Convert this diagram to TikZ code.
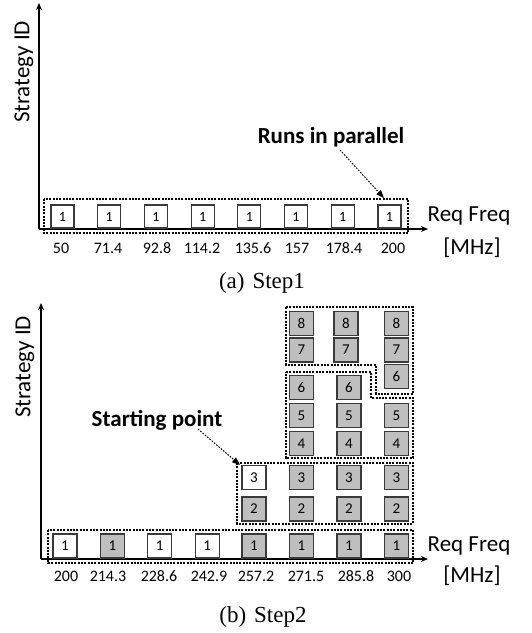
\documentclass[tikz,border=0pt]{standalone}
\usepackage{fontspec}
\setmainfont{Liberation Serif}
\newfontfamily\carl{Carlito}
\usetikzlibrary{arrows.meta}
\definecolor{fillgray}{HTML}{BFBFBF}
\definecolor{edgegray}{HTML}{3A3A3A}
\begin{document}
\begin{tikzpicture}[x=1pt,y=-1pt,
  cell/.style={draw=edgegray,line width=1.2pt,minimum size=23pt,inner sep=0pt,font=\carl\fontsize{14}{14}\selectfont},
  cellb/.style={cell,minimum size=24pt,font=\carl\fontsize{15}{15}\selectfont},
  gcell/.style={cellb,fill=fillgray},
  grp/.style={draw=black,line width=1.1pt,dash pattern=on 2pt off 1.3pt},
  axis/.style={line width=1.5pt,-{Stealth[length=7pt,width=6pt]}},
  pointer/.style={line width=1pt,dash pattern=on 1.6pt off 1.4pt,-{Triangle[length=8pt,width=6pt]}},
  lab/.style={font=\carl\fontsize{23}{23}\selectfont,inner sep=0pt},
  blab/.style={font=\carl\bfseries\fontsize{23}{23}\selectfont,inner sep=0pt},
  tick/.style={font=\carl\fontsize{16}{16}\selectfont,inner sep=0pt},
  capt/.style={font=\fontsize{23}{23}\selectfont,inner sep=0pt}]
\useasboundingbox (0,0) rectangle (532,633);

% ---------------- (a) Step1 ----------------
\coordinate (o1) at (39,229);
\coordinate (y1) at (39,3);
\coordinate (x1) at (428,229);
\draw[axis] (o1) -- (y1);
\draw[axis] (o1) -- (x1);
\node[lab,rotate=90] (sid1) at (24,72) {Strategy ID};
\node[lab] (rf1) at (469,216) {Req Freq};
\node[lab] (mhz1) at (472,248) {[MHz]};

\draw[grp] (44,199) rectangle (408,233);
\foreach \i/\x/\t/\tx in {1/62.5/50/61,2/109.2/71.4/108,3/155.9/92.8/157,4/202.6/114.2/202,5/249.3/135.6/253,6/296/157/297,7/342.7/178.4/344,8/389.4/200/393}{
  \node[cell] (a\i) at (\x,216.5) {1};
  \node[tick] (ta\i) at (\tx,248) {\t};
}
\node[blab] (runs) at (331,137) {Runs in parallel};
\coordinate (rs) at (340,150);
\coordinate (re) at (384,198);
\draw[pointer] (rs) -- (re);
\node[capt] (capa) at (262,283) {(a)\hspace{8pt}Step1};

% ---------------- (b) Step2 ----------------
\coordinate (o2) at (41,559);
\coordinate (y2) at (41,303);
\coordinate (x2) at (428,559);
\draw[axis] (o2) -- (y2);
\draw[axis] (o2) -- (x2);
\node[lab,rotate=90] (sid2) at (25,367) {Strategy ID};
\node[lab] (rf2) at (469,546) {Req Freq};
\node[lab] (mhz2) at (472,576) {[MHz]};

% group outlines
\draw[grp] (48,530) rectangle (413,563);
\draw[grp] (237,463) rectangle (413,524);
\draw[grp] (286,372) -- (371,372) -- (371,398) -- (413,398) -- (413,458) -- (286,458) -- cycle;
\draw[grp] (286,307) -- (413,307) -- (413,394) -- (376,394) -- (376,365) -- (286,365) -- cycle;

% row 1
\node[cellb] (b11) at (65,546) {1};
\node[gcell] (b12) at (112.4,546) {1};
\node[cellb] (b13) at (159.7,546) {1};
\node[cellb] (b14) at (207.1,546) {1};
\node[gcell] (b15) at (254,546) {1};
\node[gcell] (b16) at (301.5,546) {1};
\node[gcell] (b17) at (349,546) {1};
\node[gcell] (b18) at (396.5,546) {1};
\foreach \i/\t/\tx in {1/200/66,2/214.3/108,3/228.6/159,4/242.9/209,5/257.2/256,6/271.5/306,7/285.8/356,8/300/399}{
  \node[tick] (tb\i) at (\tx,576) {\t};
}
% rows 2-3
\node[gcell] (b25) at (254,509) {2};
\node[gcell] (b26) at (301.5,509) {2};
\node[gcell] (b27) at (349,509) {2};
\node[gcell] (b28) at (396.5,509) {2};
\node[cellb] (b35) at (254,477.5) {3};
\node[gcell] (b36) at (301.5,477.5) {3};
\node[gcell] (b37) at (349,477.5) {3};
\node[gcell] (b38) at (396.5,477.5) {3};
% rows 4-6
\node[gcell] (b46) at (301.5,443.5) {4};
\node[gcell] (b47) at (349,443.5) {4};
\node[gcell] (b48) at (396.5,443.5) {4};
\node[gcell] (b56) at (301.5,415.5) {5};
\node[gcell] (b57) at (349,415.5) {5};
\node[gcell] (b58) at (396.5,415.5) {5};
\node[gcell] (b66) at (301.5,387.5) {6};
\node[gcell] (b67) at (349,387.5) {6};
\node[gcell] (b68) at (396.5,376.5) {6};
% rows 7-8
\node[gcell] (b76) at (301.5,350) {7};
\node[gcell] (b77) at (346,350) {7};
\node[gcell] (b78) at (396.5,350) {7};
\node[gcell] (b86) at (301.5,323.5) {8};
\node[gcell] (b87) at (346,323.5) {8};
\node[gcell] (b88) at (396.5,323.5) {8};

\node[blab] (start) at (157,420) {Starting point};
\coordinate (ss) at (198,429);
\coordinate (se) at (240,465);
\draw[pointer] (ss) -- (se);
\node[capt] (capb) at (263,617) {(b)\hspace{8pt}Step2};
\end{tikzpicture}
\end{document}
